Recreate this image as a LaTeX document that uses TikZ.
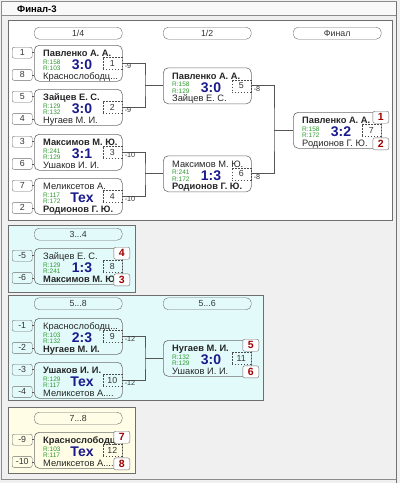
\documentclass[tikz,border=0pt]{standalone}
\usepackage{fontspec}
\setmainfont{Liberation Sans}
\usetikzlibrary{calc}
\definecolor{bgc}{HTML}{F0F0F0}
\definecolor{cyanbg}{HTML}{E2FAFA}
\definecolor{yelbg}{HTML}{FFFDE6}
\definecolor{framec}{HTML}{6E6E6E}
\definecolor{rgreen}{HTML}{2E9A2E}
\definecolor{scoreblue}{HTML}{1A1A8C}
\definecolor{resred}{HTML}{A00000}
\definecolor{linec}{HTML}{555555}
\tikzset{
  panel/.style={draw=framec, line width=0.9pt},
  pill/.style={draw=framec, rounded corners=5pt, minimum width=88pt, minimum height=12pt, inner sep=0pt, font=\fontsize{8.8}{9}\selectfont, text=black!80},
  matchbox/.style={draw=framec, rounded corners=5pt, minimum width=88pt, minimum height=36pt, inner sep=0pt, line width=0.6pt},
  nametxt/.style={inner sep=0pt, font=\fontsize{9.3}{10}\selectfont, text=black!85},
  rtxt/.style={inner sep=0pt, font=\fontsize{6.5}{7}\selectfont, text=rgreen},
  scoretxt/.style={inner sep=0pt, font=\fontsize{14}{14}\selectfont\bfseries, text=scoreblue},
  numbox/.style={draw=black!70, dashed, dash pattern=on 1.5pt off 1.5pt, minimum width=19pt, minimum height=12pt, inner sep=0pt, font=\fontsize{8.8}{9}\selectfont, text=black!80},
  seedbox/.style={draw=framec, rounded corners=2pt, minimum width=20pt, minimum height=11pt, inner sep=0pt, font=\fontsize{8.8}{9}\selectfont, text=black!80},
  resbox/.style={draw=framec, fill=white, rounded corners=2pt, minimum width=16pt, minimum height=12pt, inner sep=0pt, font=\fontsize{10.5}{11}\selectfont\bfseries, text=resred},
  conn/.style={draw=linec, line width=0.7pt},
  lbl/.style={inner sep=0pt, font=\fontsize{7.2}{8}\selectfont, text=black!80, anchor=west},
}
\newcommand\matchnode[9]{%
  \begin{scope}[shift={(#2,#3)}]
    \node[matchbox, anchor=north west] (#1) at (0,0) {};
    \node[nametxt, anchor=base west] (#1-a) at (9,11.5) {#4};
    \node[rtxt, anchor=base west] (#1-r1) at (9,19) {#5};
    \node[rtxt, anchor=base west] (#1-r2) at (9,25.8) {#6};
    \node[scoretxt, anchor=base] (#1-s) at (48,24.5) {#7};
    \node[nametxt, anchor=base west] (#1-b) at (9,34) {#8};
    \node[numbox, anchor=north east] (#1-n) at (88,12) {#9};
  \end{scope}}
\newcommand\seeds[3]{%
  \node[seedbox, anchor=north west] (#1-sa) at ($(#1.north west)+(-22,2)$) {#2};
  \node[seedbox, anchor=south west] (#1-sb) at ($(#1.south west)+(-22,-1)$) {#3};
  \draw[conn] (#1-sa.east) -- (#1-sa.east -| #1.west);
  \draw[conn] (#1-sb.east) -- (#1-sb.east -| #1.west);}
\newcommand\results[3]{%
  \node[resbox, anchor=north west] (#1-ra) at ($(#1.north east)+(-9,-1)$) {#2};
  \node[resbox, anchor=south west] (#1-rb) at ($(#1.south east)+(-9,1.5)$) {#3};}
\begin{document}
\begin{tikzpicture}[x=1pt, y=-1pt]
\useasboundingbox (0,0) rectangle (400,483);
\fill[bgc] (0,0) rectangle (400,483);
\fill[white!60!bgc] (1.5,1.5) rectangle (396,15);
\draw[black!45, line width=0.8pt] (1.5,1.5) rectangle (396,479);
\draw[black!45, line width=0.8pt] (1.5,15) -- (396,15);
\draw[black!55, line width=1.5pt] (396.5,1.5) -- (396.5,483);
\node[inner sep=0pt, anchor=base west, font=\fontsize{9.5}{10}\selectfont\bfseries] (title) at (17,12.5) {Финал-3};

% panels
\filldraw[panel, fill=white] (8,20) rectangle (392,220);
\filldraw[panel, fill=cyanbg] (8,225) rectangle (135,292);
\filldraw[panel, fill=cyanbg] (8,295) rectangle (263,400);
\filldraw[panel, fill=yelbg] (8,407) rectangle (135,473);

% headers
\node[pill, anchor=north west] (h1) at (34,27) {1/4};
\node[pill, anchor=north west] (h2) at (163,27) {1/2};
\node[pill, anchor=north west] (h3) at (293,27) {Финал};
\node[pill, anchor=north west] (h4) at (34,228) {3...4};
\node[pill, anchor=north west] (h5) at (34,297.5) {5...8};
\node[pill, anchor=north west] (h6) at (163,297.5) {5...6};
\node[pill, anchor=north west] (h7) at (34,412) {7...8};

% matches
\matchnode{m1}{34}{45}{\bfseries Павленко А. А.}{R:158}{R:103}{3:0}{Краснослободц...}{1}
\matchnode{m2}{34}{89}{\bfseries Зайцев Е. С.}{R:129}{R:132}{3:0}{Нугаев М. И.}{2}
\matchnode{m3}{34}{134}{\bfseries Максимов М. Ю.}{R:241}{R:129}{3:1}{Ушаков И. И.}{3}
\matchnode{m4}{34}{178}{Меликсетов А.}{R:117}{R:172}{Тех}{\bfseries Родионов Г. Ю.}{4}
\matchnode{m5}{163}{67.5}{\bfseries Павленко А. А.}{R:158}{R:129}{3:0}{Зайцев Е. С.}{5}
\matchnode{m6}{163}{155.5}{Максимов М. Ю.}{R:241}{R:172}{1:3}{\bfseries Родионов Г. Ю.}{6}
\matchnode{m7}{293}{112}{\bfseries Павленко А. А.}{R:158}{R:172}{3:2}{Родионов Г. Ю.}{7}
\matchnode{m8}{34}{248}{Зайцев Е. С.}{R:129}{R:241}{1:3}{\bfseries Максимов М. Ю}{8}
\matchnode{m9}{34}{318}{Краснослободц...}{R:103}{R:132}{2:3}{\bfseries Нугаев М. И.}{9}
\matchnode{m10}{34}{362}{\bfseries Ушаков И. И.}{R:129}{R:117}{Тех}{Меликсетов А....}{10}
\matchnode{m11}{163}{340}{\bfseries Нугаев М. И.}{R:132}{R:129}{3:0}{Ушаков И. И.}{11}
\matchnode{m12}{34}{432}{\bfseries Краснослободц}{R:103}{R:117}{Тех}{Меликсетов А....}{12}

% seeds
\seeds{m1}{1}{8}
\seeds{m2}{5}{4}
\seeds{m3}{3}{6}
\seeds{m4}{7}{2}
\seeds{m8}{-5}{-6}
\seeds{m9}{-1}{-2}
\seeds{m10}{-3}{-4}
\seeds{m12}{-9}{-10}

% results
\results{m7}{1}{2}
\results{m8}{4}{3}
\results{m11}{5}{6}
\results{m12}{7}{8}

% connectors
\coordinate (j1) at (145,0 |- m5.west);
\coordinate (j2) at (145,0 |- m6.west);
\coordinate (j3) at (274,0 |- m7.west);
\coordinate (j4) at (145,0 |- m11.west);
\draw[conn] (m1.east) -| (j1) |- (m2.east);
\draw[conn] (j1) -- (m5.west);
\draw[conn] (m3.east) -| (j2) |- (m4.east);
\draw[conn] (j2) -- (m6.west);
\draw[conn] (m5.east) -| (j3) |- (m6.east);
\draw[conn] (j3) -- (m7.west);
\draw[conn] (m9.east) -| (j4) |- (m10.east);
\draw[conn] (j4) -- (m11.west);

\node[lbl] (l1) at ($(m1.east)+(2,3)$) {-9};
\node[lbl] (l2) at ($(m2.east)+(2,3)$) {-9};
\node[lbl] (l3) at ($(m3.east)+(2,3)$) {-10};
\node[lbl] (l4) at ($(m4.east)+(2,3)$) {-10};
\node[lbl] (l5) at ($(m5.east)+(2,3)$) {-8};
\node[lbl] (l6) at ($(m6.east)+(2,3)$) {-8};
\node[lbl] (l9) at ($(m9.east)+(2,3)$) {-12};
\node[lbl] (l10) at ($(m10.east)+(2,3)$) {-12};
\end{tikzpicture}
\end{document}
